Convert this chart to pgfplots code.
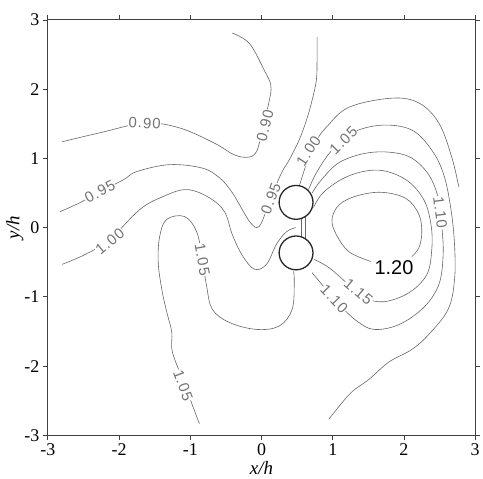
\documentclass[border=0pt]{standalone}
\usepackage{fontspec}
\setmainfont{Liberation Serif}
\newfontfamily\lblfont[LetterSpace=7]{Liberation Sans}
\newfontfamily\bigfont{Liberation Sans}
\usepackage{pgfplots}
\pgfplotsset{compat=1.18}
\definecolor{cline}{gray}{0.40}
\definecolor{ctext}{gray}{0.45}
\definecolor{axcol}{gray}{0.25}
\tikzset{lbl/.style={fill=white, inner sep=0.4pt, text=ctext, font=\lblfont\fontsize{15}{15}\selectfont}}
\pgfplotsset{cont/.style={draw=cline, line width=0.6pt, smooth, tension=0.6, mark=none, solid}}
\begin{document}
\begin{tikzpicture}
\path (-48pt,-43pt) rectangle (435pt,437pt);
\begin{axis}[
  at={(0,0)}, anchor=south west,
  scale only axis, width=429pt, height=417pt,
  xmin=-3, xmax=3, ymin=-3, ymax=3,
  xtick={-3,-2,-1,0,1,2,3}, ytick={-3,-2,-1,0,1,2,3},
  xticklabels={-3,-2,-1,0,1,2,3}, yticklabels={-3,-2,-1,0,1,2,3},
  tick align=outside, major tick length=5pt,
  every tick/.style={axcol, line width=0.8pt},
  axis line style={axcol, line width=1.1pt},
  tick label style={font=\fontsize{18}{18}\selectfont},
  xlabel={\textit{x/h}}, ylabel={\textit{y/h}},
  label style={font=\fontsize{19}{19}\selectfont},
  x label style={at={(axis description cs:0.5,-0.079)}, anchor=center},
  y label style={at={(axis description cs:-0.077,0.5)}, anchor=center},
]
% 0.90
\addplot[cont] coordinates {(-2.80,1.24)(-2.27,1.37)(-1.64,1.51)(-1.15,1.44)(-0.66,1.22)(-0.38,1.05)(-0.17,1.02)(-0.06,1.12)(0.01,1.41)(0.11,1.84)(0.13,2.06)(0.04,2.27)(-0.17,2.66)(-0.41,2.81)};
% 0.95
\addplot[cont] coordinates {(-2.83,0.23)(-2.55,0.36)(-2.27,0.52)(-1.94,0.69)(-1.75,0.81)(-1.29,0.91)(-0.83,0.86)(-0.59,0.72)(-0.42,0.52)(-0.27,0.26)(-0.17,0.09)(-0.07,0.00)(0.00,0.07)(0.08,0.29)(0.18,0.55)(0.29,0.81)(0.39,0.98)(0.53,1.27)(0.64,1.58)(0.71,1.84)(0.77,2.13)(0.78,2.42)(0.78,2.75)};
% 1.00 left
\addplot[cont] coordinates {(-2.80,-0.53)(-2.48,-0.39)(-2.13,-0.17)(-1.71,0.26)(-1.38,0.45)(-1.05,0.55)(-0.73,0.43)(-0.52,0.23)(-0.41,-0.10)(-0.27,-0.40)(-0.10,-0.60)(0.07,-0.53)(0.21,-0.24)(0.35,-0.06)(0.48,0.00)};
% 1.00 right
\addplot[cont] coordinates {(0.53,0.60)(0.60,0.83)(0.67,1.05)(0.76,1.24)(0.91,1.45)(1.23,1.74)(1.83,1.87)(2.21,1.80)(2.49,1.51)(2.67,1.02)(2.77,0.59)};
% segments between cylinders
\addplot[cont] coordinates {(0.56,-0.20)(0.56,0.20)};
\addplot[cont] coordinates {(0.61,-0.20)(0.61,0.20)};
% 1.05 right
\addplot[cont] coordinates {(0.66,0.55)(0.78,0.81)(0.99,1.12)(1.27,1.37)(1.69,1.48)(2.11,1.41)(2.39,1.12)(2.56,0.76)(2.66,0.26)(2.71,-0.25)(2.71,-0.75)(2.62,-1.18)(2.35,-1.54)(2.11,-1.76)(1.79,-1.94)(1.51,-2.19)(1.27,-2.37)(1.09,-2.58)(0.95,-2.76)};
% 1.05 left
\addplot[cont] coordinates {(0.45,-0.63)(0.46,-0.79)(0.43,-1.18)(0.25,-1.42)(-0.07,-1.47)(-0.45,-1.37)(-0.69,-1.18)(-0.77,-0.85)(-0.83,-0.46)(-0.91,-0.06)(-1.08,0.16)(-1.33,0.12)(-1.43,-0.13)(-1.45,-0.50)(-1.40,-0.89)(-1.33,-1.22)(-1.26,-1.51)(-1.25,-1.80)(-1.08,-2.26)(-0.91,-2.73)(-0.87,-2.83)};
% 1.10
\addplot[cont] coordinates {(0.71,0.50)(0.84,0.69)(1.09,0.94)(1.44,1.07)(1.79,1.09)(2.10,1.01)(2.35,0.76)(2.49,0.40)(2.53,0.04)(2.55,-0.39)(2.49,-0.82)(2.28,-1.15)(1.93,-1.40)(1.58,-1.47)(1.34,-1.35)(1.09,-1.11)(0.88,-0.86)(0.71,-0.65)};
% 1.15
\addplot[cont] coordinates {(0.73,0.29)(0.88,0.52)(1.23,0.75)(1.65,0.83)(2.03,0.69)(2.28,0.40)(2.38,0.04)(2.39,-0.32)(2.32,-0.68)(2.07,-0.94)(1.72,-1.07)(1.44,-1.01)(1.23,-0.83)(0.95,-0.58)(0.74,-0.46)};
% 1.20
\addplot[cont] coordinates {(1.54,-0.49)(1.23,-0.35)(1.05,-0.10)(0.99,0.12)(1.09,0.33)(1.34,0.46)(1.69,0.51)(2.03,0.42)(2.21,0.19)(2.25,-0.07)(2.21,-0.29)(2.11,-0.42)};
% cylinders
\addplot[draw=black!85, line width=1.3pt, fill=white, smooth cycle, mark=none] coordinates {(0.723,0.365)(0.705,0.459)(0.653,0.538)(0.576,0.591)(0.485,0.610)(0.394,0.591)(0.317,0.538)(0.265,0.459)(0.247,0.365)(0.265,0.271)(0.317,0.192)(0.394,0.139)(0.485,0.120)(0.576,0.139)(0.653,0.192)(0.705,0.271)};
\addplot[draw=black!85, line width=1.3pt, fill=white, smooth cycle, mark=none] coordinates {(0.723,-0.365)(0.705,-0.271)(0.653,-0.192)(0.576,-0.139)(0.485,-0.120)(0.394,-0.139)(0.317,-0.192)(0.265,-0.271)(0.247,-0.365)(0.265,-0.459)(0.317,-0.538)(0.394,-0.591)(0.485,-0.610)(0.576,-0.591)(0.653,-0.538)(0.705,-0.459)};
% labels
\node[lbl, rotate=-3] at (axis cs:-1.64,1.51) {0.90};
\node[lbl, rotate=76] at (axis cs:0.05,1.47) {0.90};
\node[lbl, rotate=28] at (axis cs:-2.27,0.52) {0.95};
\node[lbl, rotate=69] at (axis cs:0.13,0.42) {0.95};
\node[lbl, rotate=39] at (axis cs:-2.13,-0.20) {1.00};
\node[lbl, rotate=57] at (axis cs:0.66,1.11) {1.00};
\node[lbl, rotate=45] at (axis cs:1.15,1.26) {1.05};
\node[lbl, rotate=-80] at (axis cs:-0.83,-0.46) {1.05};
\node[lbl, rotate=-70] at (axis cs:-1.10,-2.28) {1.05};
\node[lbl, rotate=-83] at (axis cs:2.51,0.22) {1.10};
\node[lbl, rotate=-46] at (axis cs:1.02,-1.03) {1.10};
\node[lbl, rotate=-40] at (axis cs:1.36,-0.93) {1.15};
\node[fill=white, inner sep=0.8pt, text=black, font=\bigfont\fontsize{20}{20}\selectfont] at (axis cs:1.86,-0.58) {1.20};
\end{axis}
\end{tikzpicture}
\end{document}
